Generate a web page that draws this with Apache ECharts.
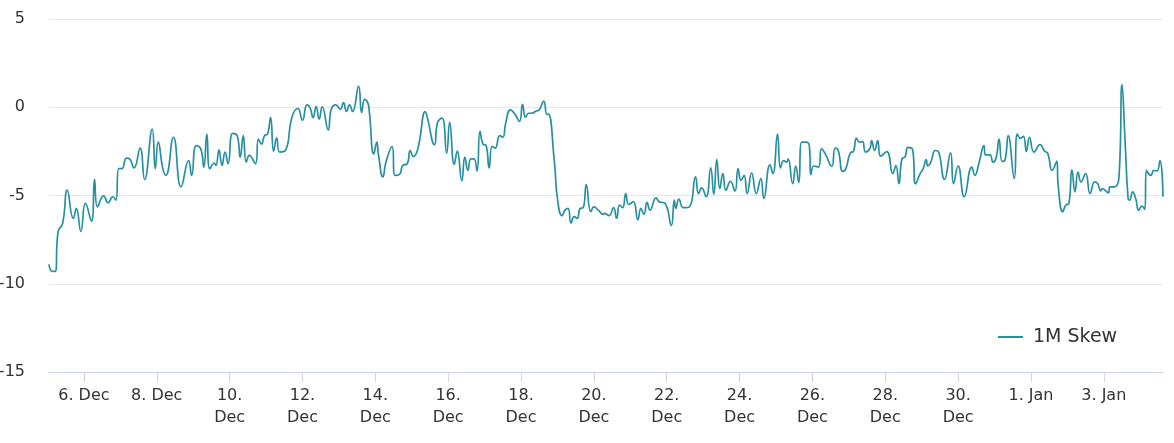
<!DOCTYPE html>
<html>
<head>
<meta charset="utf-8">
<script src="https://cdn.jsdelivr.net/npm/echarts@6/dist/echarts.min.js"></script>
<style>
  html, body { margin: 0; padding: 0; background: #fff; }
  #main { width: 1174px; height: 443px; }
</style>
</head>
<body>
<div id="main"></div>
<script>
// [hours from 6 Dec 00:00 UTC, 1M skew]
var skewDec05 = [[-23,-8.9],[-21,-9.29],[-19,-9.3],[-17,-7.04],[-14,-6.57],[-11,-4.7],[-7,-6.3],[-5,-5.73],[-2,-7.04],[1,-5.45],[5,-6.46],[7,-4.08],[9,-5.64],[13,-5.02],[16,-5.41],[19,-5.07],[21,-5.26],[23,-3.48],[25,-3.48],[28,-2.88],[30,-2.92],[33,-3.43],[37,-2.32],[40,-4.1],[45,-1.24],[47,-3.48],[49,-1.98],[52,-3.48],[54,-3.86],[59,-1.7],[64,-4.51],[69,-3.02],[71,-3.86],[74,-2.17],[77,-2.36],[79,-3.39],[81,-1.52],[83,-3.48],[86,-3.16],[87,-3.3],[89,-2.42],[91,-3.3],[93,-2.54],[95,-3.2],[98,-1.48],[101,-1.61],[103,-2.83],[105,-1.61],[107,-3.11],[109,-2.73],[113,-3.2],[115,-1.8],[117,-2.08],[119,-1.61],[121,-1.52],[123,-0.58],[125,-2.49],[127,-1.74],[129,-2.54],[133,-2.42]];
var skewDec11 = [[137,-0.58],[141,-0.07],[144,-0.73],[147,0.13],[149,-0.02],[151,-0.58],[153,0.04],[155,-0.67],[157,0.02],[161,-1.29],[163,-0.11],[166,0.13],[169,-0.11],[171,0.26],[173,-0.24],[175,0.13],[177,-0.24],[181,1.2],[183,-0.3],[185,0.45],[187,0.26],[188,-0.21],[191,-2.64],[193,-1.98],[194,-2.64],[197,-3.95],[199,-3.11],[203,-2.23],[205,-3.86],[208,-3.8],[210,-3.3],[213,-3.2],[215,-2.45],[217,-2.79],[220,-2.36],[225,-0.24],[226,-0.49],[231,-2.12],[233,-0.86],[236,-0.62],[239,-2.6],[241,-0.86],[244,-3.24],[246,-2.49],[249,-4.17],[251,-2.83],[253,-3.58],[255,-2.92],[257,-2.92],[259,-3.61],[261,-1.37],[263,-2.1],[265,-2.17],[267,-3.44],[269,-2.21],[271,-2.32],[274,-1.61],[276,-1.7],[278,-0.86],[281,-0.15],[284,-0.39],[287,-0.8],[289,0.17],[291,-0.58],[293,-0.34],[295,-0.34],[298,-0.21],[300,-0.15],[303,0.35],[305,-0.39],[306,-0.39]];
var skewDec18 = [[310,-3.11],[312,-5.17],[315,-6.14],[317,-5.83],[319,-5.73],[321,-6.57],[323,-6.2],[325,-6.29],[327,-5.73],[329,-5.69],[331,-4.38],[334,-5.92],[336,-5.64],[339,-5.83],[342,-6.07],[343,-6.01],[346,-6.14],[349,-5.69],[351,-6.29],[353,-5.54],[355,-5.69],[357,-4.89],[359,-5.51],[362,-5.35],[365,-6.38],[367,-5.73],[369,-6.07],[371,-5.39],[373,-5.83],[377,-5.13],[379,-5.35],[383,-5.45],[387,-6.7],[389,-5.26],[390,-5.73],[392,-5.21],[395,-5.69],[399,-5.64],[403,-3.95],[405,-4.89],[407,-4.57],[410,-5.07],[413,-3.44],[415,-4.94],[417,-2.96],[419,-4.61],[421,-3.76],[423,-4.7],[426,-4.2],[429,-4.75],[431,-3.48],[433,-4.14],[435,-3.86],[437,-4.89],[440,-3.72],[443,-4.89],[446,-4.04],[448,-5.17]];
var skewDec24 = [[452,-3.26],[454,-3.76],[457,-1.52],[459,-3.44],[461,-3.02],[463,-3.11],[464,-2.92],[467,-4.33],[469,-3.33],[471,-4.27],[473,-1.98],[476,-1.98],[478,-2.21],[479,-3.82],[481,-3.33],[484,-3.39],[486,-2.36],[489,-2.73],[492,-3.3],[493,-3.33],[495,-2.32],[497,-2.45],[500,-3.63],[502,-3.48],[505,-2.58],[507,-2.51],[509,-1.76],[511,-1.98],[513,-1.95],[515,-2.54],[518,-2.32],[519,-1.89],[521,-2.45],[523,-1.89],[525,-2.77],[529,-2.51],[533,-3.76],[535,-3.3],[537,-4.33],[539,-2.92],[541,-2.83],[543,-2.27],[546,-2.4],[548,-4.33],[551,-3.76],[553,-3.48],[555,-2.96],[556,-3.33],[558,-3.11],[561,-2.45],[563,-2.51],[567,-4.08],[571,-2.58],[573,-4.33],[576,-3.33],[580,-5.07],[585,-3.39],[587,-3.86],[590,-3.07],[593,-2.17],[594,-2.7],[597,-2.7],[599,-3.11],[601,-2.88],[603,-1.8],[605,-3.07],[607,-2.96],[609,-1.61],[613,-4.04],[615,-1.52],[617,-1.76],[619,-1.65],[621,-2.51],[623,-1.7],[626,-2.54]];
var skewJan01 = [[630,-2.12],[633,-2.49],[635,-2.6],[638,-3.58],[641,-3.05],[642,-4.51],[645,-5.92],[647,-5.54],[649,-5.45],[651,-3.54],[653,-4.79],[655,-3.67],[657,-4.23],[660,-3.76],[663,-4.89],[666,-4.23],[668,-4.33],[670,-4.74],[671,-4.61],[675,-4.85],[676,-4.51],[679,-4.51],[682,-3.95],[684,1.29],[686,-1.89],[688,-5.17],[689,-5.26],[691,-4.79],[693,-5.17],[695,-5.83],[697,-5.6],[699,-5.79],[700,-3.58],[703,-3.86],[705,-3.58],[707,-3.61],[709,-3.02],[711,-5.07]];

var tickDates = ['2021-12-06','2021-12-08','2021-12-10','2021-12-12','2021-12-14','2021-12-16','2021-12-18','2021-12-20','2021-12-22','2021-12-24','2021-12-26','2021-12-28','2021-12-30','2022-01-01','2022-01-03'];
var monthNames = ['Jan','Feb','Mar','Apr','May','Jun','Jul','Aug','Sep','Oct','Nov','Dec'];
var seriesName = '1M Skew';

var t0 = Date.UTC(2021, 11, 6);
var HOUR = 3600 * 1000;
var skewData = [].concat(skewDec05, skewDec11, skewDec18, skewDec24, skewJan01);
// tick positions in the same hour units as the data
var tickHours = tickDates.map(function (d) {
  return (Date.parse(d + 'T00:00:00Z') - t0) / HOUR;
});

var lineColor = '#2690a2';
var labelFont = 'DejaVu Sans';

var chart = echarts.init(document.getElementById('main'));
chart.setOption({
  animation: false,
  grid: { left: 49, right: 11, top: 19, bottom: 71, outerBoundsMode: 'none' },
  legend: {
    data: [{ name: seriesName, icon: 'rect' }],
    left: 998,
    top: 327,
    padding: 0,
    itemWidth: 25,
    itemHeight: 2,
    textStyle: { fontSize: 19, color: '#333', fontFamily: labelFont, padding: [0, 0, 0, 5], lineHeight: 20 }
  },
  xAxis: {
    type: 'value',
    min: 'dataMin',
    max: 'dataMax',
    axisLine: { show: true, onZero: false, lineStyle: { color: '#ccd6eb', width: 1 } },
    axisTick: { show: true, length: 10, customValues: tickHours, lineStyle: { color: '#ccd6eb' } },
    axisLabel: {
      customValues: tickHours,
      color: '#333',
      fontSize: 16,
      fontFamily: labelFont,
      margin: 13,
      lineHeight: 22,
      hideOverlap: false,
      formatter: function (val) {
        var d = new Date(t0 + val * HOUR);
        var day = d.getUTCDate();
        var mon = monthNames[d.getUTCMonth()];
        return day >= 10 ? day + '.\n' + mon : day + '. ' + mon;
      }
    },
    splitLine: { show: false }
  },
  yAxis: {
    type: 'value',
    min: -15,
    max: 5,
    interval: 5,
    axisLine: { show: false },
    axisTick: { show: false },
    axisLabel: { color: '#333', fontSize: 16, fontFamily: labelFont, margin: 24 },
    splitLine: { lineStyle: { color: '#e6e6e6', width: 1 } }
  },
  series: [{
    name: seriesName,
    type: 'line',
    data: skewData,
    showSymbol: false,
    smooth: 0.5,
    lineStyle: { width: 1.7, color: lineColor },
    itemStyle: { color: lineColor }
  }]
});
</script>
</body>
</html>
